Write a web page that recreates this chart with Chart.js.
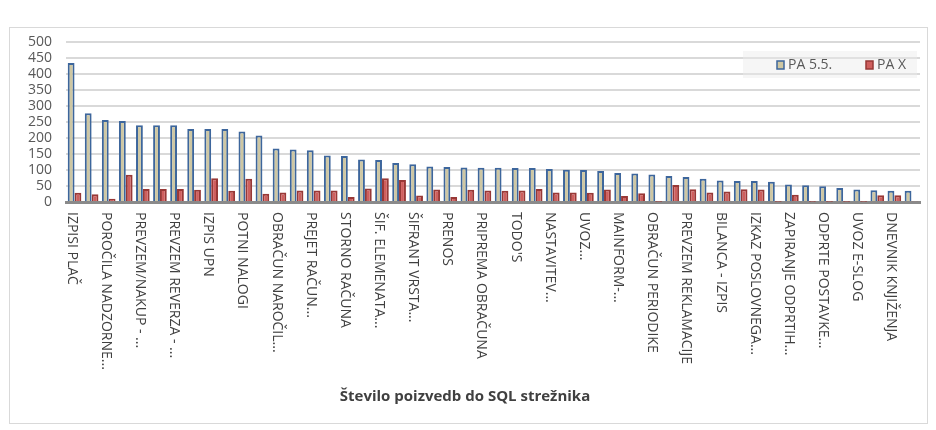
<!DOCTYPE html>
<html>
<head>
<meta charset="utf-8">
<script src="https://cdn.jsdelivr.net/npm/chart.js@4.4.1/dist/chart.umd.min.js"></script>
<style>
  html, body { margin: 0; padding: 0; background: #fff; }
  #wrap { width: 936px; height: 430px; position: relative; }
</style>
</head>
<body>
<div id="wrap"><canvas id="sqlChart"></canvas></div>
<script>
// names only for the categories that carry a label in the picture
const categories = [
  'IZPISI PLAČ', '', 'POROČILA NADZORNE...', '', 'PREVZEM/NAKUP - ...', '',
  'PREVZEM REVERZA - ...', '', 'IZPIS UPN', '', 'POTNI NALOGI', '',
  'OBRAČUN NAROČIL...', '', 'PREJET RAČUN...', '', 'STORNO RAČUNA', '',
  'ŠIF. ELEMENATA...', '', 'ŠIFRANT VRSTA...', '', 'PRENOS', '',
  'PRIPREMA OBRAČUNA', '', "TODO'S", '', 'NASTAVITEV...', '', 'UVOZ...', '',
  'MAINFORM-...', '', 'OBRAČUN PERIODIKE', '', 'PREVZEM REKLAMACIJE', '',
  'BILANCA - IZPIS', '', 'IZKAZ POSLOVNEGA...', '', 'ZAPIRANJE ODPRTIH...', '',
  'ODPRTE POSTAVKE...', '', 'UVOZ E-SLOG', '', 'DNEVNIK KNJIŽENJA', ''
];
const pa55 = [
  434, 277, 256, 253, 240, 240, 240, 228, 228, 228,
  220, 208, 167, 164, 162, 145, 144, 133, 131, 122,
  118, 111, 109, 108, 107, 107, 106, 106, 103, 101,
  100, 97, 91, 89, 86, 81, 78, 73, 67, 66,
  66, 63, 55, 52, 49, 44, 39, 37, 35, 35
];
const paX = [
  29, 24, 10, 85, 41, 41, 41, 38, 74, 35,
  73, 26, 30, 36, 36, 36, 16, 42, 74, 69,
  20, 39, 16, 38, 36, 35, 36, 41, 30, 30,
  29, 39, 19, 27, 1, 53, 40, 30, 33, 40,
  39, 1, 23, 1, 1, 1, 1, 21, 21, 2
];
const seriesNames = ['PA 5.5.', 'PA X'];
const yTicks = [0, 50, 100, 150, 200, 250, 300, 350, 400, 450, 500];
const chartTitle = 'Število poizvedb do SQL strežnika';

var fillColors = ['#CEC7A3', '#CF5F5E'];
var edgeColors = ['#3D669C', '#983836'];
var textColor = '#404040';

// light frame round the whole chart
const frame = {
  id: 'frame',
  beforeDraw(chart) {
    const ctx = chart.ctx;
    ctx.save();
    ctx.fillStyle = '#fff';
    ctx.fillRect(0, 0, chart.width, chart.height);
    ctx.strokeStyle = '#D9D9D9';
    ctx.lineWidth = 1;
    ctx.strokeRect(9.5, 27.5, 918, 396);
    ctx.restore();
  }
};

// x labels turned clockwise, reading downwards like the original
const sideLabels = {
  id: 'sideLabels',
  afterDraw(chart) {
    const ctx = chart.ctx, xs = chart.scales.x;
    ctx.save();
    ctx.font = '14px "Open Sans"';
    ctx.fillStyle = textColor;
    ctx.textAlign = 'left';
    ctx.textBaseline = 'middle';
    categories.forEach(function(name, i) {
      if (!name) return;
      ctx.save();
      ctx.translate(xs.getPixelForValue(i) - 3, xs.top + 10);
      ctx.rotate(Math.PI / 2);
      ctx.fillText(name, 0, 0);
      ctx.restore();
    });
    ctx.restore();
  }
};

// legend box sits inside the plot, top right
const boxLegend = {
  id: 'boxLegend',
  afterDraw(chart) {
    const ctx = chart.ctx;
    const area = chart.chartArea;
    ctx.save();
    ctx.fillStyle = 'rgba(235,235,235,0.45)';
    ctx.fillRect(743, 51, area.right - 3 - 743, 27);
    ctx.font = '14px "Open Sans"';
    ctx.textBaseline = 'middle';
    ctx.textAlign = 'left';
    var xs = [777, 866];
    chart.data.datasets.forEach(function(ds, i) {
      ctx.fillStyle = ds.backgroundColor;
      ctx.fillRect(xs[i], 61, 7, 8);
      ctx.strokeStyle = ds.borderColor;
      ctx.lineWidth = 1.5;
      ctx.strokeRect(xs[i], 61, 7, 8);
      ctx.fillStyle = '#595959';
      ctx.fillText(ds.label, xs[i] + 11, 65);
    });
    ctx.restore();
  }
};

const data = {
  labels: categories,
  datasets: [
    {
      label: seriesNames[0],
      data: pa55,
      backgroundColor: fillColors[0],
      borderColor: edgeColors[0],
      borderWidth: 2
    },
    {
      label: seriesNames[1],
      data: paX,
      backgroundColor: fillColors[1],
      borderColor: edgeColors[1],
      borderWidth: 2
    }
  ]
};

const config = {
  type: 'bar',
  data: data,
  options: {
    responsive: false,
    animation: false,
    devicePixelRatio: 1,
    barPercentage: 1,
    categoryPercentage: 0.8,
    layout: { padding: { top: 42, left: 10, right: 16, bottom: 10 } },
    plugins: {
      legend: { display: false },
      tooltip: { enabled: false },
      title: {
        display: true,
        position: 'bottom',
        text: chartTitle,
        color: textColor,
        font: { family: '"Open Sans"', size: 15, weight: 'bold' },
        padding: { top: 0, bottom: 14 }
      }
    },
    scales: {
      x: {
        ticks: { display: false },
        grid: { display: false },
        border: { color: '#8A8A8A', width: 3 },
        afterFit: function(scale) { scale.height = 186; }
      },
      y: {
        min: 0,
        max: 500,
        afterBuildTicks: function(scale) {
          scale.ticks = yTicks.map(function(v) { return { value: v }; });
        },
        afterFit: function(scale) { scale.width = 56; },
        ticks: {
          color: '#595959',
          padding: 14,
          autoSkip: false,
          font: { family: '"Open Sans"', size: 14 }
        },
        grid: { color: '#D9D9D9', lineWidth: 2, drawTicks: false },
        border: { display: false }
      }
    }
  },
  plugins: [frame, sideLabels, boxLegend]
};

var canvas = document.getElementById('sqlChart');
canvas.width = 936;
canvas.height = 430;
var chart = new Chart(canvas, config);
</script>
</body>
</html>
